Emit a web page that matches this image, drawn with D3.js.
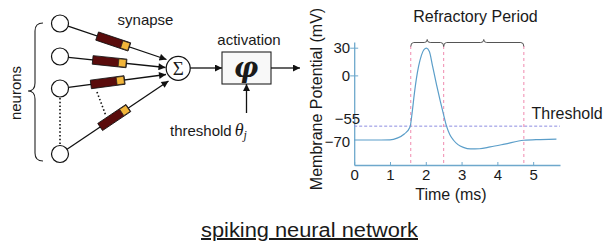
<!DOCTYPE html>
<html>
<head>
<meta charset="utf-8">
<script src="https://cdn.jsdelivr.net/npm/d3@7"></script>
<style>
body{margin:0;background:#fff;}
text{font-family:"Liberation Sans",Arial,sans-serif;fill:#1a1a1a;}
</style>
</head>
<body>
<svg id="content" width="603" height="247"></svg>
<script>
// data - action potential trace (ms, mV)
const timeMs = [0,0.5,1.0,1.2,1.4,1.56,1.62,1.68,1.74,1.8,1.88,1.95,2.02,2.1,2.19,2.3,2.4,2.5,2.58,2.67,2.77,2.9,3.05,3.25,3.5,3.8,4.2,4.74,5.2,5.65];
const potentialMv = [-70,-70,-69.8,-68,-63.5,-56,-40,-20,-3,10,22,28,29.5,26,10,-10,-27,-43,-55,-64,-70,-75,-78,-79.7,-79.5,-77.5,-74.5,-70.3,-69.5,-69];
const xTicks = [0,1,2,3,4,5];
const yTicks = [30,0,-55,-70];
const refractoryMs = [1.58,2.5,4.74];
const thresholdMv = -55;

// labels
const neuronCount = 4;
const labels = {syn:"synapse", act:"activation", thr:"threshold", neu:"neurons",
    refr:"Refractory Period", thrLine:"Threshold", yTitle:"Membrane Potential (mV)",
    xTitle:"Time (ms)", caption:"spiking neural network"};

// layout of the schematic (positions only)
const neuronY = [23.5,56.5,88.5,154], neuronX = 60, neuronR = 8.5;
const sigma = {x:178.2, y:68.3, r:12};
const tips = [[166.5,59.5],[165.5,67.5],[166,74.5],[168.5,81]];
const synFrac = [0.5,0.47,0.45,0.5];

const svg = d3.select("#content");
const defs = svg.append("defs");
defs.append("marker").attr("id","arr")
    .attr("viewBox","0 0 10 10").attr("refX",10).attr("refY",5)
    .attr("markerUnits","userSpaceOnUse")
    .attr("markerWidth",9).attr("markerHeight",7)
    .attr("orient","auto")
    .append("path").attr("d","M0,0L10,5L0,10z").attr("fill","#111");

//----- left schematic
const net = svg.append("g").attr("class","net");

// connections
let links = d3.range(neuronCount).map(i=>{
    let x0 = neuronX, y0 = neuronY[i], x1 = tips[i][0], y1 = tips[i][1];
    let dx = x1-x0, dy = y1-y0, len = Math.sqrt(dx*dx+dy*dy);
    return {x0:x0+dx/len*neuronR, y0:y0+dy/len*neuronR, x1, y1,
        cx:x0+dx*synFrac[i], cy:y0+dy*synFrac[i], ang:Math.atan2(dy,dx)*180/Math.PI};
});
net.selectAll(".link").data(links).join("line")
    .attr("class","link")
    .attr("x1",d=>d.x0).attr("y1",d=>d.y0)
    .attr("x2",d=>d.x1).attr("y2",d=>d.y1)
    .attr("stroke","#111").attr("stroke-width",1.3)
    .attr("marker-end","url(#arr)");

// dotted hints
net.append("line").attr("x1",neuronX).attr("y1",neuronY[2]+neuronR+1)
    .attr("x2",neuronX).attr("y2",neuronY[3]-neuronR-1)
    .attr("stroke","#111").attr("stroke-width",1.6).attr("stroke-dasharray","1.5,2.2");
net.append("line").attr("x1",97).attr("y1",92).attr("x2",106).attr("y2",116)
    .attr("stroke","#111").attr("stroke-width",1.6).attr("stroke-dasharray","1.5,2.2");

// synapses
let syn = net.selectAll(".syn").data(links).join("g")
    .attr("class","syn")
    .attr("transform",d=>`translate(${d.cx},${d.cy}) rotate(${d.ang})`);
syn.append("rect").attr("x",-17).attr("y",-4.3).attr("width",34).attr("height",8.6)
    .attr("fill","#5a0c0c").attr("stroke","#111").attr("stroke-width",0.8);
syn.append("rect").attr("x",9).attr("y",-3.8).attr("width",7.5).attr("height",7.6)
    .attr("fill","#f2b53a").attr("stroke","#222").attr("stroke-width",0.7);

// neurons
net.selectAll(".neuron").data(neuronY).join("circle")
    .attr("class","neuron")
    .attr("cx",neuronX).attr("cy",d=>d).attr("r",neuronR)
    .attr("fill","#fff").attr("stroke","#111").attr("stroke-width",1.2);

// brace around neurons
net.append("path")
    .attr("d","M43,23 Q35,23 35,31 L35,83 Q35,91 28,91 Q35,91 35,99 L35,153 Q35,161 43,161")
    .attr("fill","none").attr("stroke","#222").attr("stroke-width",1.1);
net.append("text").attr("transform","translate(15,93) rotate(-90)")
    .attr("text-anchor","middle").attr("dominant-baseline","central")
    .style("font-size","15px").text(labels.neu);

net.append("text").attr("x",145.5).attr("y",25)
    .attr("text-anchor","middle").style("font-size","15px").text(labels.syn);

// sum node
net.append("circle").attr("cx",sigma.x).attr("cy",sigma.y).attr("r",sigma.r)
    .attr("fill","#fff").attr("stroke","#111").attr("stroke-width",1.2);
net.append("text").attr("x",sigma.x).attr("y",sigma.y+6.5)
    .attr("text-anchor","middle")
    .style("font-family","'Liberation Serif',serif").style("font-size","19px")
    .text("\u03A3");

// activation box
net.append("line").attr("x1",sigma.x+sigma.r).attr("y1",68).attr("x2",222).attr("y2",68)
    .attr("stroke","#111").attr("stroke-width",1.3).attr("marker-end","url(#arr)");
net.append("rect").attr("x",222).attr("y",52).attr("width",49).attr("height",32)
    .attr("fill","#f8f8f8").attr("stroke","#222").attr("stroke-width",1.1);
net.append("text").attr("x",246).attr("y",77)
    .attr("text-anchor","middle")
    .style("font-family","'DejaVu Serif',serif").style("font-style","italic")
    .style("font-weight","bold").style("font-size","27px")
    .text("\u03C6");
net.append("line").attr("x1",271).attr("y1",68).attr("x2",300).attr("y2",68)
    .attr("stroke","#111").attr("stroke-width",1.3).attr("marker-end","url(#arr)");
net.append("text").attr("x",249).attr("y",45)
    .attr("text-anchor","middle").style("font-size","15px").text(labels.act);

// threshold input
net.append("line").attr("x1",246.5).attr("y1",113).attr("x2",246.5).attr("y2",84)
    .attr("stroke","#111").attr("stroke-width",1.3).attr("marker-end","url(#arr)");
let thr = net.append("text").attr("x",170).attr("y",136).style("font-size","15px");
thr.append("tspan").text(labels.thr);
thr.append("tspan").attr("dx",3)
    .style("font-family","'Liberation Serif',serif").style("font-style","italic")
    .style("font-size","18px").text("\u03B8");
thr.append("tspan").attr("dy",3)
    .style("font-family","'Liberation Serif',serif").style("font-style","italic")
    .style("font-size","12px").text("j");

//----- action potential plot
const axisColor = "#6ea8cc";
const x = d3.scaleLinear().domain([0,5.75]).range([354.2,560]);
const y = d3.scaleLinear().domain([-70,30]).range([140,47.7]);
const yAx = y.copy().domain([y.invert(165),y.invert(42)]).range([165,42]);

const plot = svg.append("g").attr("class","plot");

// x axis
let gx = plot.append("g").attr("transform","translate(0,165)")
    .call(d3.axisBottom(x).tickValues(xTicks).tickFormat(d3.format("d"))
        .tickSizeInner(-3).tickSizeOuter(0).tickPadding(4));
gx.select(".domain").attr("stroke",axisColor).attr("stroke-width",1.3);
gx.selectAll(".tick line").attr("stroke",axisColor);
gx.selectAll(".tick text").style("font-size","15px").attr("fill","#1a1a1a")
    .style("font-family","'Liberation Sans',Arial,sans-serif");

// y axis
let gy = plot.append("g").attr("transform","translate(354.2,0)")
    .call(d3.axisLeft(yAx).tickValues(yTicks).tickFormat(d3.format("d"))
        .tickSizeInner(4).tickSizeOuter(0).tickPadding(4));
gy.select(".domain").attr("stroke",axisColor).attr("stroke-width",1.3);
gy.selectAll(".tick line").attr("x2",4).attr("x1",-4).attr("stroke",axisColor)
    .attr("opacity",d=>d>=0?1:0);
gy.selectAll(".tick text").style("font-size","15px").attr("fill","#1a1a1a")
    .style("font-family","'Liberation Sans',Arial,sans-serif")
    .attr("x",d=>d===-55?6:-4)
    .attr("dy",d=>d===-55?"-0.2em":d===-70?"0.45em":"0.32em");

// threshold
plot.append("line").attr("x1",x(0)).attr("x2",x(5.75))
    .attr("y1",y(thresholdMv)).attr("y2",y(thresholdMv))
    .attr("stroke","#8c8ce0").attr("stroke-width",1).attr("stroke-dasharray","3,2");

// refractory markers
plot.selectAll(".refr").data(refractoryMs).join("line")
    .attr("class","refr")
    .attr("x1",d=>x(d)).attr("x2",d=>x(d)).attr("y1",46).attr("y2",165)
    .attr("stroke","#f08aae").attr("stroke-width",1).attr("stroke-dasharray","3,3");

// braces over refractory period
function hBrace(a,b,yb){
    let m = (a+b)/2, r = 3;
    return `M${a},${yb+4} Q${a},${yb} ${a+r},${yb} L${m-r},${yb} Q${m},${yb} ${m},${yb-3}`+
        ` Q${m},${yb} ${m+r},${yb} L${b-r},${yb} Q${b},${yb} ${b},${yb+4}`;
}
plot.selectAll(".brace").data(d3.pairs(refractoryMs)).join("path")
    .attr("class","brace")
    .attr("d",d=>hBrace(x(d[0]),x(d[1]),42.5))
    .attr("fill","none").attr("stroke","#555").attr("stroke-width",1);

// trace
const trace = timeMs.map((t,i)=>[t,potentialMv[i]]);
plot.append("path").datum(trace)
    .attr("d",d3.line().x(d=>x(d[0])).y(d=>y(d[1])).curve(d3.curveMonotoneX))
    .attr("fill","none").attr("stroke","#5b9ec9").attr("stroke-width",1.2);

plot.append("text").attr("x",475.5).attr("y",21.5).attr("text-anchor","middle")
    .style("font-size","16px").text(labels.refr);
plot.append("text").attr("x",531.5).attr("y",118.5)
    .style("font-size","16px").text(labels.thrLine);
plot.append("text").attr("x",451).attr("y",200).attr("text-anchor","middle")
    .style("font-size","16px").text(labels.xTitle);
plot.append("text").attr("transform","translate(322,99) rotate(-90)")
    .attr("text-anchor","middle").style("font-size","16px").text(labels.yTitle);

// caption
svg.append("text").attr("x",309.5).attr("y",237).attr("text-anchor","middle")
    .attr("textLength",217).attr("lengthAdjust","spacingAndGlyphs")
    .style("font-size","20px").style("text-decoration","underline")
    .text(labels.caption);
</script>
</body>
</html>
